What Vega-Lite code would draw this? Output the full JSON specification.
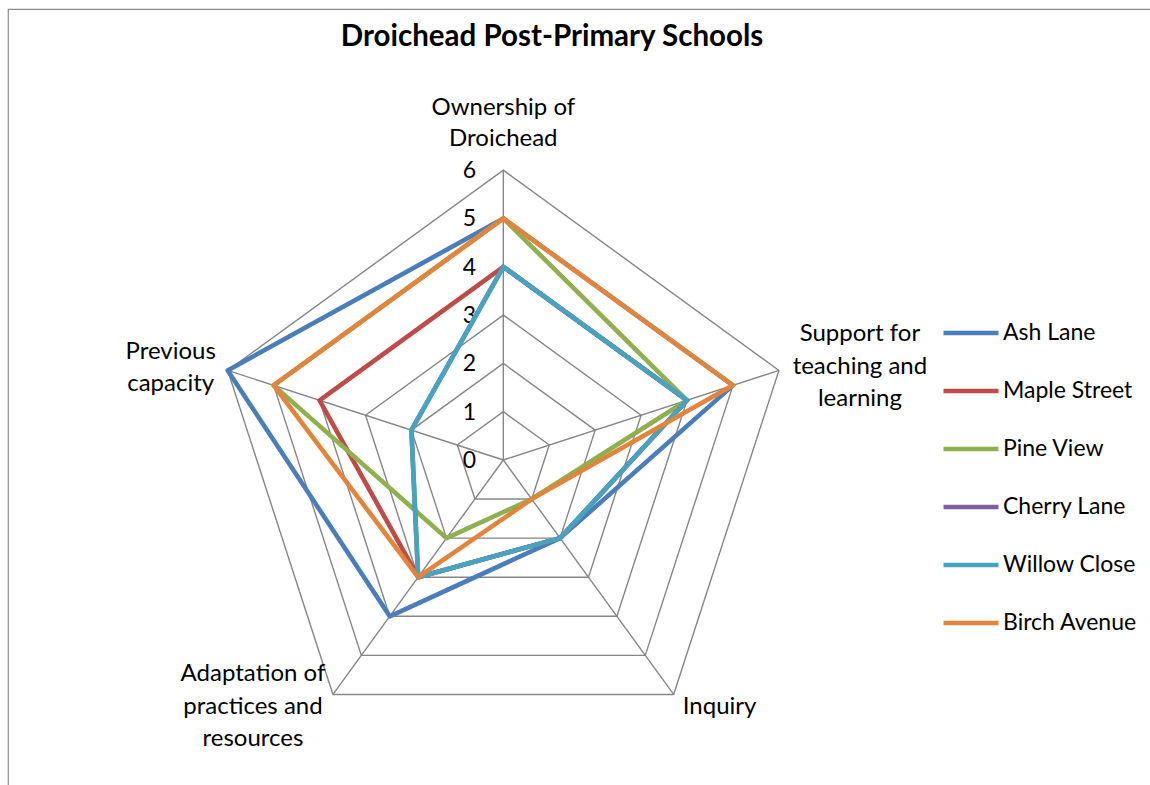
{
  "$schema": "https://vega.github.io/schema/vega-lite/v6.json",
  "width": 1160,
  "height": 800,
  "autosize": {"type": "none"},
  "padding": {"left": 8, "top": 9, "right": 0, "bottom": 0},
  "background": "white",
  "config": {
    "view": {"stroke": "#8c8c8c", "strokeWidth": 1.2},
    "font": "Lato",
    "text": {"font": "Lato", "fontSize": 24, "fill": "#000000"}
  },
  "title": {
    "text": "Droichead Post-Primary Schools",
    "font": "Lato",
    "fontSize": 29.5,
    "fontWeight": "bold",
    "color": "#000000",
    "anchor": "middle",
    "dx": -36,
    "dy": 47
  },
  "datasets": {
    "axes": [
      {"axis": "Ownership of Droichead", "label": "Ownership of\nDroichead", "rings": [1, 2, 3, 4, 5, 6]},
      {"axis": "Support for teaching and learning", "label": "Support for\nteaching and\nlearning", "rings": [1, 2, 3, 4, 5, 6]},
      {"axis": "Inquiry", "label": "Inquiry", "rings": [1, 2, 3, 4, 5, 6]},
      {"axis": "Adaptation of practices and resources", "label": "Adaptation of\npractices and\nresources", "rings": [1, 2, 3, 4, 5, 6]},
      {"axis": "Previous capacity", "label": "Previous\ncapacity", "rings": [1, 2, 3, 4, 5, 6]}
    ],
    "ticks": [
      {"tick": 0}, {"tick": 1}, {"tick": 2}, {"tick": 3}, {"tick": 4}, {"tick": 5}, {"tick": 6}
    ],
    "scores": [
      {"school": "Ash Lane", "axis": "Ownership of Droichead", "value": 5},
      {"school": "Ash Lane", "axis": "Support for teaching and learning", "value": 5},
      {"school": "Ash Lane", "axis": "Inquiry", "value": 2},
      {"school": "Ash Lane", "axis": "Adaptation of practices and resources", "value": 4},
      {"school": "Ash Lane", "axis": "Previous capacity", "value": 6},
      {"school": "Maple Street", "axis": "Ownership of Droichead", "value": 4},
      {"school": "Maple Street", "axis": "Support for teaching and learning", "value": 4},
      {"school": "Maple Street", "axis": "Inquiry", "value": 2},
      {"school": "Maple Street", "axis": "Adaptation of practices and resources", "value": 3},
      {"school": "Maple Street", "axis": "Previous capacity", "value": 4},
      {"school": "Pine View", "axis": "Ownership of Droichead", "value": 5},
      {"school": "Pine View", "axis": "Support for teaching and learning", "value": 4},
      {"school": "Pine View", "axis": "Inquiry", "value": 1},
      {"school": "Pine View", "axis": "Adaptation of practices and resources", "value": 2},
      {"school": "Pine View", "axis": "Previous capacity", "value": 5},
      {"school": "Cherry Lane", "axis": "Ownership of Droichead", "value": 4},
      {"school": "Cherry Lane", "axis": "Support for teaching and learning", "value": 4},
      {"school": "Cherry Lane", "axis": "Inquiry", "value": 2},
      {"school": "Cherry Lane", "axis": "Adaptation of practices and resources", "value": 3},
      {"school": "Cherry Lane", "axis": "Previous capacity", "value": 2},
      {"school": "Willow Close", "axis": "Ownership of Droichead", "value": 4},
      {"school": "Willow Close", "axis": "Support for teaching and learning", "value": 4},
      {"school": "Willow Close", "axis": "Inquiry", "value": 2},
      {"school": "Willow Close", "axis": "Adaptation of practices and resources", "value": 3},
      {"school": "Willow Close", "axis": "Previous capacity", "value": 2},
      {"school": "Birch Avenue", "axis": "Ownership of Droichead", "value": 5},
      {"school": "Birch Avenue", "axis": "Support for teaching and learning", "value": 5},
      {"school": "Birch Avenue", "axis": "Inquiry", "value": 1},
      {"school": "Birch Avenue", "axis": "Adaptation of practices and resources", "value": 3},
      {"school": "Birch Avenue", "axis": "Previous capacity", "value": 5}
    ]
  },
  "resolve": {"scale": {"x": "shared", "y": "shared"}},
  "layer": [
    {
      "data": {"name": "axes"},
      "transform": [
        {"flatten": ["rings"]},
        {"calculate": "indexof(['Ownership of Droichead','Support for teaching and learning','Inquiry','Adaptation of practices and resources','Previous capacity'], datum.axis)", "as": "idx"},
        {"calculate": "datum.idx * 2 * PI / 5", "as": "ang"},
        {"calculate": "datum.rings * sin(datum.ang)", "as": "px"},
        {"calculate": "datum.rings * cos(datum.ang)", "as": "py"}
      ],
      "mark": {"type": "line", "interpolate": "linear-closed", "stroke": "#868686", "strokeWidth": 1.4},
      "encoding": {
        "x": {"field": "px", "type": "quantitative", "scale": {"domain": [-10.255, 13.762], "nice": false, "zero": false}, "axis": null},
        "y": {"field": "py", "type": "quantitative", "scale": {"domain": [-7.226, 9.337], "nice": false, "zero": false}, "axis": null},
        "detail": {"field": "rings", "type": "nominal"},
        "order": {"field": "idx", "type": "quantitative"}
      }
    },
    {
      "data": {"name": "axes"},
      "transform": [
        {"calculate": "indexof(['Ownership of Droichead','Support for teaching and learning','Inquiry','Adaptation of practices and resources','Previous capacity'], datum.axis)", "as": "idx"},
        {"calculate": "datum.idx * 2 * PI / 5", "as": "ang"},
        {"calculate": "6 * sin(datum.ang)", "as": "px"},
        {"calculate": "6 * cos(datum.ang)", "as": "py"}
      ],
      "mark": {"type": "rule", "stroke": "#868686", "strokeWidth": 1.4},
      "encoding": {
        "x": {"field": "px", "type": "quantitative"},
        "y": {"field": "py", "type": "quantitative"},
        "x2": {"datum": 0},
        "y2": {"datum": 0}
      }
    },
    {
      "data": {"name": "ticks"},
      "mark": {"type": "text", "align": "center", "baseline": "middle", "dx": -34, "dy": 1, "fontSize": 23},
      "encoding": {
        "x": {"datum": 0, "type": "quantitative"},
        "y": {"field": "tick", "type": "quantitative"},
        "text": {"field": "tick", "type": "quantitative"}
      }
    },
    {
      "data": {"name": "scores"},
      "transform": [
        {"calculate": "indexof(['Ownership of Droichead','Support for teaching and learning','Inquiry','Adaptation of practices and resources','Previous capacity'], datum.axis)", "as": "idx"},
        {"calculate": "datum.idx * 2 * PI / 5", "as": "ang"},
        {"calculate": "datum.value * sin(datum.ang)", "as": "px"},
        {"calculate": "datum.value * cos(datum.ang)", "as": "py"}
      ],
      "mark": {"type": "line", "interpolate": "linear-closed", "strokeWidth": 4.6, "strokeJoin": "round"},
      "encoding": {
        "x": {"field": "px", "type": "quantitative"},
        "y": {"field": "py", "type": "quantitative"},
        "order": {"field": "idx", "type": "quantitative"},
        "color": {
          "field": "school",
          "type": "nominal",
          "scale": {
            "domain": ["Ash Lane", "Maple Street", "Pine View", "Cherry Lane", "Willow Close", "Birch Avenue"],
            "range": ["#4A7EBB", "#BE4B48", "#8EB04F", "#7D60A0", "#46A4C0", "#E2843B"]
          },
          "legend": {
            "title": null,
            "orient": "none",
            "legendX": 933,
            "legendY": 294,
            "symbolType": "stroke",
            "symbolSize": 3025,
            "symbolStrokeWidth": 4.6,
            "labelFont": "Lato",
            "labelFontSize": 23,
            "labelColor": "#000000",
            "labelOffset": 2,
            "rowPadding": 16,
            "padding": 0
          }
        }
      }
    },
    {
      "data": {"name": "axes"},
      "transform": [
        {"filter": "datum.axis == 'Ownership of Droichead'"},
        {"calculate": "0", "as": "px"},
        {"calculate": "6", "as": "py"}
      ],
      "mark": {"type": "text", "align": "center", "baseline": "middle", "lineBreak": "\n", "lineHeight": 31, "dy": -62},
      "encoding": {
        "x": {"field": "px", "type": "quantitative"},
        "y": {"field": "py", "type": "quantitative"},
        "text": {"field": "label", "type": "nominal"}
      }
    },
    {
      "data": {"name": "axes"},
      "transform": [
        {"filter": "datum.axis == 'Support for teaching and learning'"},
        {"calculate": "6 * sin(2 * PI / 5)", "as": "px"},
        {"calculate": "6 * cos(2 * PI / 5)", "as": "py"}
      ],
      "mark": {"type": "text", "align": "center", "baseline": "middle", "lineBreak": "\n", "lineHeight": 32.5, "dx": 81, "dy": -36},
      "encoding": {
        "x": {"field": "px", "type": "quantitative"},
        "y": {"field": "py", "type": "quantitative"},
        "text": {"field": "label", "type": "nominal"}
      }
    },
    {
      "data": {"name": "axes"},
      "transform": [
        {"filter": "datum.axis == 'Inquiry'"},
        {"calculate": "6 * sin(4 * PI / 5)", "as": "px"},
        {"calculate": "6 * cos(4 * PI / 5)", "as": "py"}
      ],
      "mark": {"type": "text", "align": "center", "baseline": "middle", "lineBreak": "\n", "lineHeight": 32, "dx": 46, "dy": 13},
      "encoding": {
        "x": {"field": "px", "type": "quantitative"},
        "y": {"field": "py", "type": "quantitative"},
        "text": {"field": "label", "type": "nominal"}
      }
    },
    {
      "data": {"name": "axes"},
      "transform": [
        {"filter": "datum.axis == 'Adaptation of practices and resources'"},
        {"calculate": "6 * sin(6 * PI / 5)", "as": "px"},
        {"calculate": "6 * cos(6 * PI / 5)", "as": "py"}
      ],
      "mark": {"type": "text", "align": "center", "baseline": "middle", "lineBreak": "\n", "lineHeight": 32.5, "dx": -80, "dy": -20},
      "encoding": {
        "x": {"field": "px", "type": "quantitative"},
        "y": {"field": "py", "type": "quantitative"},
        "text": {"field": "label", "type": "nominal"}
      }
    },
    {
      "data": {"name": "axes"},
      "transform": [
        {"filter": "datum.axis == 'Previous capacity'"},
        {"calculate": "6 * sin(8 * PI / 5)", "as": "px"},
        {"calculate": "6 * cos(8 * PI / 5)", "as": "py"}
      ],
      "mark": {"type": "text", "align": "center", "baseline": "middle", "lineBreak": "\n", "lineHeight": 32, "dx": -57, "dy": -18},
      "encoding": {
        "x": {"field": "px", "type": "quantitative"},
        "y": {"field": "py", "type": "quantitative"},
        "text": {"field": "label", "type": "nominal"}
      }
    }
  ]
}
